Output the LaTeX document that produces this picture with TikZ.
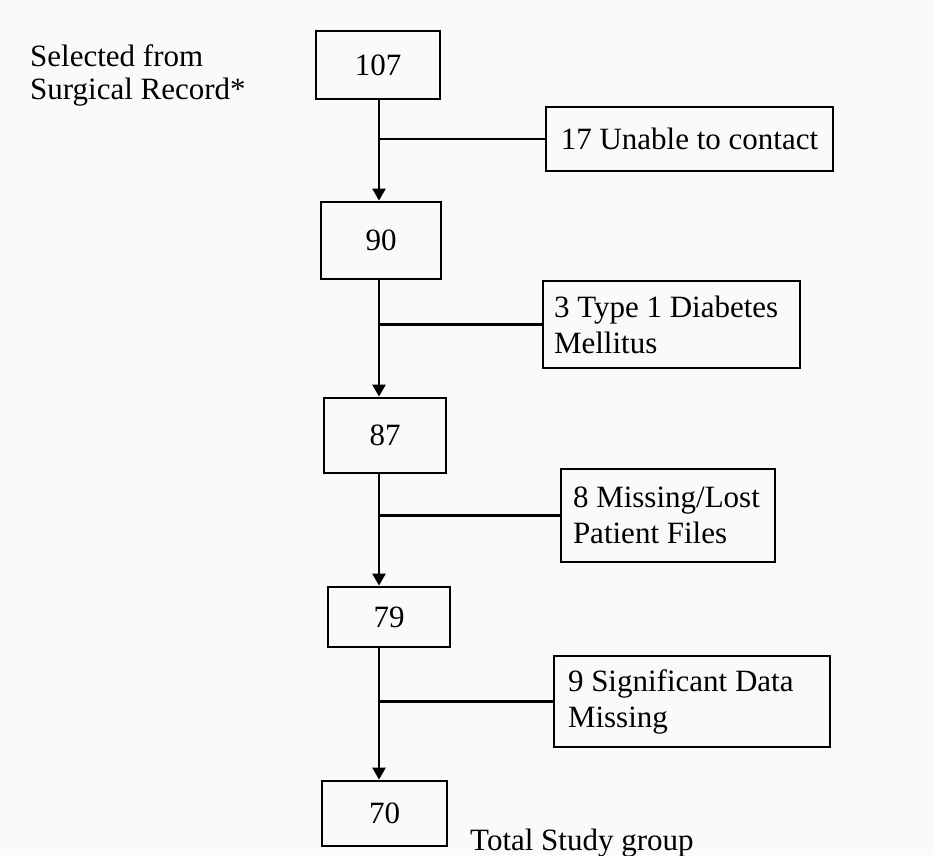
\documentclass[tikz,border=0pt]{standalone}
\usepackage{fontspec}
\setmainfont{Liberation Serif}
\usetikzlibrary{arrows.meta}
\definecolor{paper}{HTML}{FAFAFA}
\tikzset{countbox/.style = {draw, line width=2.8pt, inner sep=0pt},
         exclbox/.style = {draw, line width=2.8pt, inner ysep=0pt, align=flush left},
         flow/.style = {line width=2.4pt, -{Triangle[width=13pt,length=12pt]}},
         branch/.style = {line width=2.4pt}}

\begin{document}
\begin{tikzpicture}[x=1pt, y=-1pt, font=\fontsize{31}{36}\selectfont]
      \fill[paper] (0,0) rectangle (933,855);
      \useasboundingbox (0,0) rectangle (933,855);
      \coordinate (trunk) at (379,0);

      % counts down the middle
      \node[countbox, minimum width=124pt, minimum height=68pt] (n107) at (378,65) {107};
      \node[countbox, minimum width=120pt, minimum height=77pt] (n90) at (381,240.5) {90};
      \node[countbox, minimum width=122pt, minimum height=75pt] (n87) at (385,435.5) {87};
      \node[countbox, minimum width=122pt, minimum height=60pt] (n79) at (389,617) {79};
      \node[countbox, minimum width=125pt, minimum height=65pt] (n70) at (384.5,813.5) {70};

      % exclusions on the right
      \node[countbox, minimum width=287pt, minimum height=64pt] (x17) at (689.5,139) {17 Unable to contact};
      \node[exclbox, inner xsep=11pt, text width=235pt, minimum height=87pt] (x3) at (671.5,324.5)
        {3 Type 1 Diabetes\\Mellitus};
      \node[exclbox, inner xsep=12pt, text width=190pt, minimum height=93pt] (x8) at (668,515.5)
        {8 Missing/Lost\\Patient Files};
      \node[exclbox, inner xsep=14pt, text width=248pt, minimum height=91pt] (x9) at (692,701.5)
        {9 Significant Data\\Missing};

      % labels
      \node[anchor=north west, inner sep=0pt, align=left, font=\fontsize{31}{33}\selectfont] (source) at (30,44)
        {Selected from\\Surgical Record*};
      \node[anchor=base west, inner sep=0pt] (total) at (470,850) {Total Study group};

      \draw[flow] (n107.south -| trunk) -- (n90.north -| trunk);
      \draw[flow] (n90.south -| trunk) -- (n87.north -| trunk);
      \draw[flow] (n87.south -| trunk) -- (n79.north -| trunk);
      \draw[flow] (n79.south -| trunk) -- (n70.north -| trunk);

      \draw[branch] (x17.west) -- (x17.west -| trunk);
      \draw[branch] (x3.west) -- (x3.west -| trunk);
      \draw[branch] (x8.west) -- (x8.west -| trunk);
      \draw[branch] (x9.west) -- (x9.west -| trunk);
    \end{tikzpicture}
\end{document}
